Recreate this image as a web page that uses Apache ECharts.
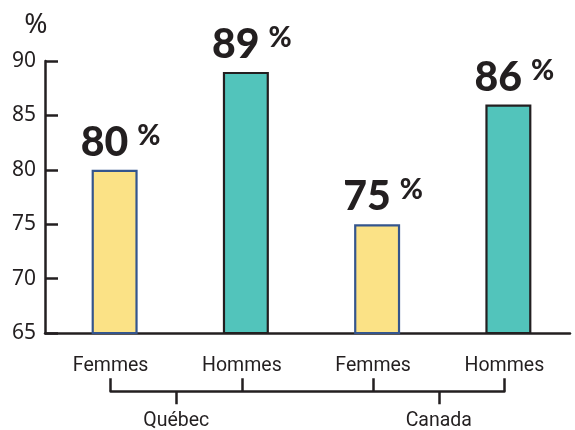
<!DOCTYPE html>
<html>
<head>
<meta charset="utf-8">
<script src="https://cdn.jsdelivr.net/npm/echarts@6/dist/echarts.min.js"></script>
<style>
  html, body { margin: 0; padding: 0; background: #fff; }
  #chart { width: 575px; height: 430px; }
</style>
</head>
<body>
<div id="chart"></div>
<script>
// categories and values
const categories = ['Femmes', 'Hommes', 'Femmes', 'Hommes']
const groups = ['Québec', '', 'Canada']
const values = [80, 89, 75, 86]
const yTicks = { min: 65, max: 90, step: 5 }

const ink = '#231f20'
const yellow = '#fbe286'
const teal = '#52c4bb'
const blueEdge = '#34558d'

const chart = echarts.init(document.getElementById('chart'))

const barData = values.map(function (v, i) {
  const female = i % 2 === 0
  return {
    value: v,
    itemStyle: {
      color: female ? yellow : teal,
      borderColor: female ? blueEdge : ink,
      borderWidth: 2.2
    }
  }
})

const option = {
  animation: false,
  grid: [
    { left: 45, right: 5, top: 61, bottom: 97 },
    // thin grid used only for the bracket under the labels
    { left: 110.6, width: 393.8, top: 391, height: 1 }
  ],
  xAxis: [
    {
      type: 'category',
      data: categories,
      gridIndex: 0,
      axisLine: { lineStyle: { color: ink, width: 2.5 } },
      axisTick: { inside: true, length: 7, lineStyle: { color: ink, width: 2 } },
      axisLabel: {
        color: ink,
        fontFamily: 'Roboto',
        fontSize: 19.5,
        margin: 23
      }
    },
    {
      // bracket line with upward ticks under each label
      type: 'value',
      gridIndex: 1,
      position: 'top',
      min: 0,
      max: 3,
      interval: 1,
      axisLine: { show: true, lineStyle: { color: ink, width: 2.5 } },
      axisTick: { show: true, length: 13, lineStyle: { color: ink, width: 2.5 } },
      axisLabel: { show: false },
      splitLine: { show: false }
    },
    {
      // group names with downward ticks
      type: 'category',
      gridIndex: 1,
      position: 'bottom',
      data: groups,
      axisLine: { show: false },
      axisTick: {
        show: true,
        alignWithLabel: true,
        length: 13,
        interval: function (i) { return i !== 1 },
        lineStyle: { color: ink, width: 2.5 }
      },
      axisLabel: {
        interval: 0,
        color: ink,
        fontFamily: 'Roboto',
        fontSize: 19.5,
        margin: 20
      }
    }
  ],
  yAxis: [
    {
      type: 'value',
      gridIndex: 0,
      min: yTicks.min,
      max: yTicks.max,
      interval: yTicks.step,
      name: '%',
      nameLocation: 'end',
      nameGap: 22,
      nameTextStyle: {
        color: ink,
        fontFamily: 'Noto Sans',
        fontSize: 28,
        padding: [0, 18, 0, 0]
      },
      axisLine: { show: true, lineStyle: { color: ink, width: 2.5 } },
      axisTick: { show: true, inside: true, length: 13, lineStyle: { color: ink, width: 2.5 } },
      axisLabel: {
        color: ink,
        fontFamily: 'Noto Sans',
        fontSize: 21,
        margin: 9
      },
      splitLine: { show: false }
    },
    { type: 'value', gridIndex: 1, show: false }
  ],
  series: [
    {
      // empty spacer series: nudges the real bars a little to the right
      type: 'bar',
      xAxisIndex: 0,
      yAxisIndex: 0,
      data: [],
      barWidth: 8,
      barGap: '0%'
    },
    {
      type: 'bar',
      xAxisIndex: 0,
      yAxisIndex: 0,
      data: barData,
      barWidth: 46,
      barGap: '0%',
      label: {
        show: true,
        position: 'top',
        distance: 6,
        padding: [0, 0, 0, 12],
        formatter: function (p) { return '{v|' + p.value + '}{p|%}' },
        rich: {
          v: {
            fontFamily: 'Lato',
            fontWeight: 900,
            fontSize: 41,
            color: ink,
            lineHeight: 42
          },
          p: {
            fontFamily: 'Lato',
            fontWeight: 900,
            fontSize: 28,
            color: ink,
            lineHeight: 25,
            verticalAlign: 'top',
            padding: [0, 0, 0, 9]
          }
        }
      }
    }
  ]
}

chart.setOption(option)
</script>
</body>
</html>
